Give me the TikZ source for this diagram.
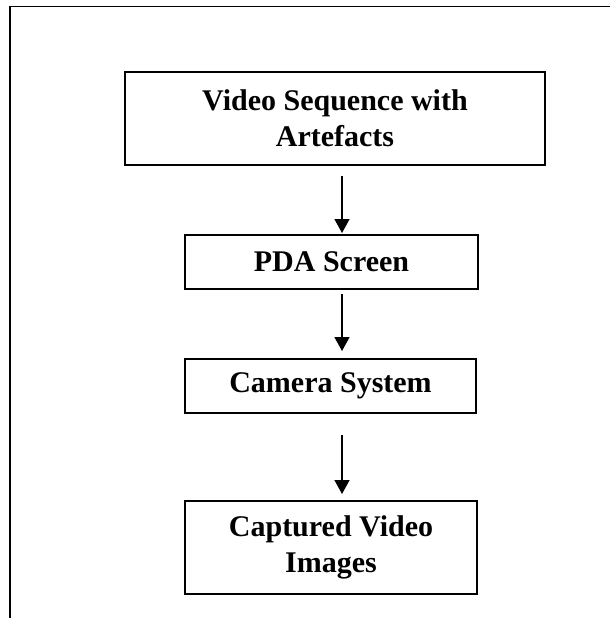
\documentclass[tikz,border=0pt]{standalone}
\usepackage{fontspec}
\setmainfont{Liberation Serif}
\usetikzlibrary{arrows.meta,positioning}

\begin{document}
\begin{tikzpicture}[
  x=1pt, y=-1pt,
  font=\fontsize{30}{36}\selectfont\bfseries,
  >={Triangle[length=14pt, width=15pt]},
  stage/.style={draw, line width=2.4pt, minimum width=290.6pt, minimum height=53.6pt, align=center, inner sep=0pt},
  tall/.style={stage, minimum height=92.6pt},
  flow/.style={->, line width=1.5pt}
]
\useasboundingbox (0,0) rectangle (610,618);

% page frame (cut off at right and bottom)
\draw[line width=1.8pt] (610,6.5) -- (10,6.5) -- (10,618);

\node[tall, minimum width=419.6pt] (video) at (335,118.5) {Video Sequence with\\Artefacts};
\node[stage, minimum width=292.6pt] (pda) at (331.5,262) {PDA Screen};
\node[stage] (camera) at (330.5,386) {Camera System};
\node[tall, minimum width=291.6pt] (captured) at (331,547.5) {Captured Video\\Images};

\draw[flow] ([xshift=7pt, yshift=-10pt]video.south) -- ([xshift=10.5pt, yshift=1pt]pda.north);
\draw[flow] ([xshift=10.5pt, yshift=-4pt]pda.south) -- ([xshift=11.5pt, yshift=7pt]camera.north);
\draw[flow] ([xshift=11.5pt, yshift=-21pt]camera.south) -- ([xshift=11pt, yshift=6pt]captured.north);

\end{tikzpicture}
\end{document}
